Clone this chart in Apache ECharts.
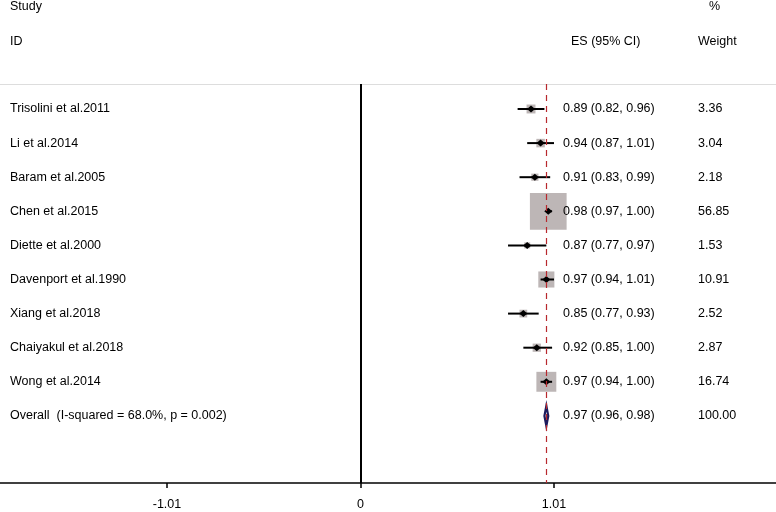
<!DOCTYPE html>
<html>
<head>
<meta charset="utf-8">
<style>
  html, body { margin: 0; padding: 0; background: #fff; }
  .chart { width: 776px; height: 512px; }
</style>
<script src="https://cdn.jsdelivr.net/npm/echarts@6.0.0/dist/echarts.min.js"></script>
</head>
<body>
<div class="chart"></div>
<script>
// 研究名称
const studies = [
  'Trisolini et al.2011', 'Li et al.2014', 'Baram et al.2005', 'Chen et al.2015',
  'Diette et al.2000', 'Davenport et al.1990', 'Xiang et al.2018',
  'Chaiyakul et al.2018', 'Wong et al.2014'
];
// 效应量及 95% 置信区间
const es = [0.89, 0.94, 0.91, 0.98, 0.87, 0.97, 0.85, 0.92, 0.97];
const lower = [0.82, 0.87, 0.83, 0.97, 0.77, 0.94, 0.77, 0.85, 0.94];
const upper = [0.96, 1.01, 0.99, 1.00, 0.97, 1.01, 0.93, 1.00, 1.00];
// 权重 %
const weights = [3.36, 3.04, 2.18, 56.85, 1.53, 10.91, 2.52, 2.87, 16.74];
// 合并结果
const overallLabel = 'Overall  (I-squared = 68.0%, p = 0.002)';
const overallEs = 0.97;
const overallLower = 0.96;
const overallUpper = 0.98;
const overallWeight = 100.00;
// x 轴刻度
const xTicks = [-1.01, 0, 1.01];

(function () {
  let myChart = echarts.init(document.querySelector('.chart'))
  let font = "'Liberation Sans', Arial, sans-serif"
  let fontSize = 12.5
  // 文字列的横向位置
  let colName = 10
  let colEs = 563
  let colWeight = 698

  function ciText(e, lo, hi) {
    return e.toFixed(2) + ' (' + lo.toFixed(2) + ', ' + hi.toFixed(2) + ')'
  }

  function textEl(x, y, text) {
    return {
      type: 'text',
      x: x,
      y: y,
      style: {
        text: text,
        fill: '#000',
        fontSize: fontSize,
        fontFamily: font,
        align: 'left',
        verticalAlign: 'middle'
      }
    }
  }

  // 每个研究：灰色方块 + 置信区间线 + 黑色小菱形 + 文字
  function renderStudy(params, api) {
    let row = api.value(0)
    let c = api.coord([api.value(1), row])
    let l = api.coord([api.value(2), row])
    let r = api.coord([api.value(3), row])
    let side = 4.87 * Math.sqrt(api.value(4))
    let i = params.dataIndex
    return {
      type: 'group',
      children: [
        {
          type: 'rect',
          shape: { x: c[0] - side / 2, y: c[1] - side / 2, width: side, height: side },
          style: { fill: '#bdb6b6' }
        },
        {
          type: 'line',
          shape: { x1: l[0], y1: l[1], x2: r[0], y2: r[1] },
          style: { stroke: '#000', lineWidth: 2 }
        },
        {
          type: 'polygon',
          shape: { points: [[c[0] - 4, c[1]], [c[0], c[1] - 3.5], [c[0] + 4, c[1]], [c[0], c[1] + 3.5]] },
          style: { fill: '#000' }
        },
        textEl(colName, c[1], studies[i]),
        textEl(colEs, c[1], ciText(es[i], lower[i], upper[i])),
        textEl(colWeight, c[1], weights[i].toFixed(2))
      ]
    }
  }

  // 合并效应：空心菱形
  function renderOverall(params, api) {
    let row = api.value(0)
    let c = api.coord([api.value(1), row])
    let l = api.coord([api.value(2), row])
    let r = api.coord([api.value(3), row])
    let h = 10
    return {
      type: 'group',
      children: [
        {
          type: 'polygon',
          shape: { points: [[l[0], c[1]], [c[0], c[1] - h], [r[0], c[1]], [c[0], c[1] + h]] },
          style: { fill: '#fff', stroke: '#1c1a5c', lineWidth: 2.2 }
        },
        textEl(colName, c[1], overallLabel),
        textEl(colEs, c[1], ciText(overallEs, overallLower, overallUpper)),
        textEl(colWeight, c[1], api.value(4).toFixed(2))
      ]
    }
  }

  let option = {
    animation: false,
    grid: {
      left: 0,
      right: 0,
      top: 84,
      bottom: 29
    },
    // 表头
    graphic: [
      textEl(colName, 7, 'Study'),
      textEl(colName, 42, 'ID'),
      textEl(709, 7, '%'),
      textEl(571, 42, 'ES (95% CI)'),
      textEl(colWeight, 42, 'Weight')
    ],
    xAxis: [
      {
        type: 'value',
        min: -1.8815,
        max: 2.1686,
        splitLine: { show: false },
        // 不跟随 y=0，固定在底部
        axisLine: { onZero: false, lineStyle: { color: '#000', width: 1.5 } },
        axisTick: {
          show: true,
          customValues: xTicks,
          length: 5,
          lineStyle: { color: '#000', width: 1.5 }
        },
        axisLabel: {
          customValues: xTicks,
          color: '#000',
          fontSize: 12.5,
          fontFamily: font,
          margin: 15
        }
      },
      {
        // 顶部浅灰线
        type: 'value',
        position: 'top',
        min: -1.8815,
        max: 2.1686,
        splitLine: { show: false },
        axisLine: { onZero: false, lineStyle: { color: '#dddddd', width: 1 } },
        axisTick: { show: false },
        axisLabel: { show: false }
      }
    ],
    yAxis: {
      type: 'value',
      inverse: true,
      min: -0.733,
      max: 10.968,
      show: false
    },
    series: [
      {
        name: 'studies',
        type: 'custom',
        renderItem: renderStudy,
        encode: { x: [1, 2, 3], y: 0 },
        data: studies.map(function (name, i) {
          return [i, es[i], lower[i], upper[i], weights[i]]
        }),
        // 0 处实线 和 合并效应虚线
        markLine: {
          symbol: 'none',
          silent: true,
          label: { show: false },
          data: [
            { xAxis: 0, lineStyle: { color: '#000', width: 2, type: 'solid' } },
            { xAxis: overallEs, lineStyle: { color: '#b8282e', width: 1.2, type: [6, 5] } }
          ]
        },
        z: 3
      },
      {
        name: 'overall',
        type: 'custom',
        renderItem: renderOverall,
        encode: { x: [1, 2, 3], y: 0 },
        data: [[studies.length, overallEs, overallLower, overallUpper, overallWeight]],
        z: 4
      }
    ]
  }

  myChart.setOption(option)

  window.addEventListener('resize', function () {
    myChart.resize()
  })
})();
</script>
</body>
</html>
